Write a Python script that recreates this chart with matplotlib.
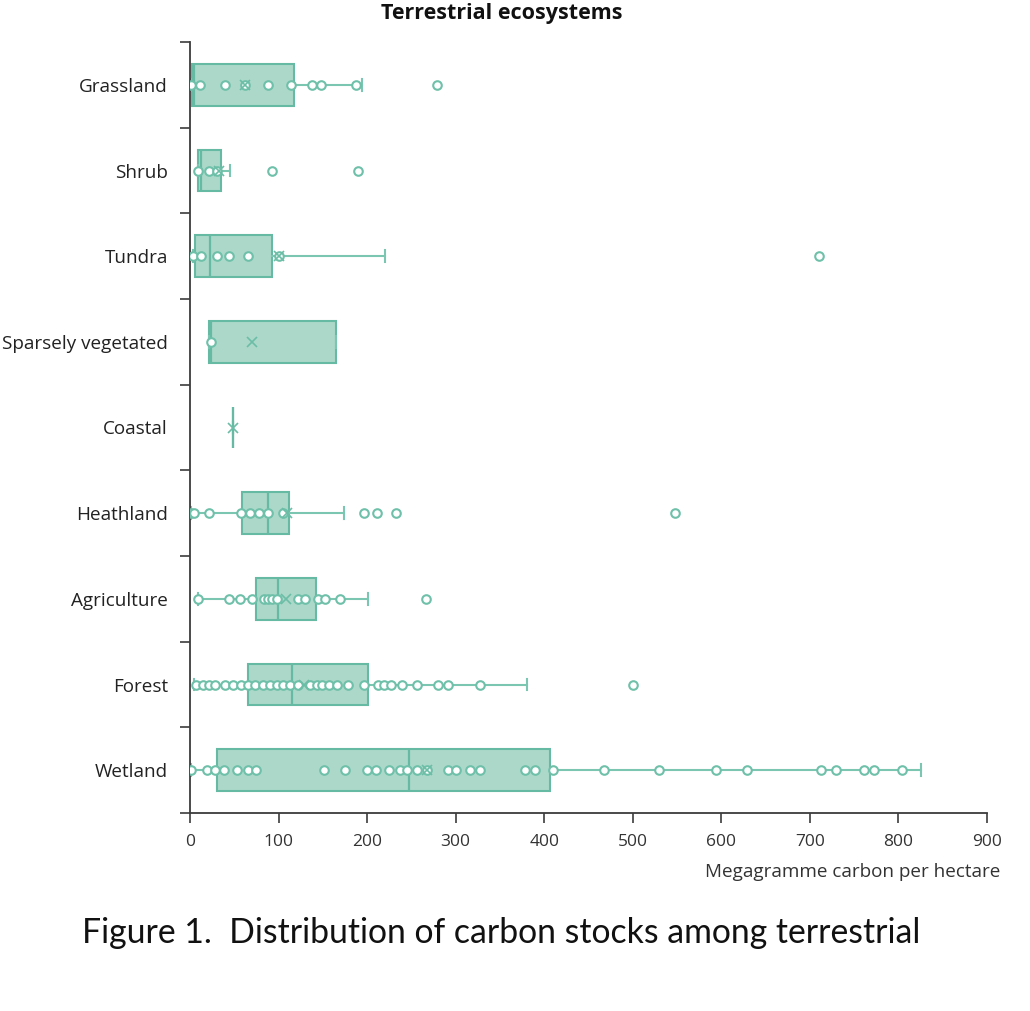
import matplotlib.pyplot as plt
import numpy as np

plt.rcParams['font.family'] = ['Open Sans', 'DejaVu Sans']

# Categories top to bottom
categories = ['Grassland', 'Shrub', 'Tundra', 'Sparsely vegetated', 'Coastal',
              'Heathland', 'Agriculture', 'Forest', 'Wetland']

# Box statistics (Mg C / ha)
q1 = [2, 9, 6, 21, 48, 59, 74, 65, 31]
median = [5, 12, 23, 24, 48, 88, 99, 115, 247]
q3 = [118, 35, 93, 165, 48, 112, 142, 201, 406]
whisker_low = [1, 9, 3, 21, 48, 1, 9, 5, 1]
whisker_high = [194, 45, 220, 165, 48, 174, 201, 380, 826]
mean = [62, 33, 101, 70, 48, 110, 108, 129, 268]

# Individual data points shown as circles
grassland_pts = [1, 11, 40, 62, 88, 114, 138, 148, 187, 279]
shrub_pts = [9, 21, 31, 93, 190]
tundra_pts = [3, 12, 30, 44, 66, 101, 710]
sparse_pts = [24]
coastal_pts = []
heath_pts = [1, 4, 21, 58, 68, 78, 88, 105, 197, 211, 233, 548]
agri_pts = [9, 44, 57, 70, 83, 88, 93, 98, 122, 130, 145, 153, 169, 266]
forest_pts = [7, 15, 21, 28, 39, 48, 58, 66, 73, 82, 90, 98, 105, 113, 122,
              136, 143, 149, 157, 166, 178, 196, 212, 219, 227, 239, 256,
              280, 291, 327, 500]
wetland_pts = [1, 19, 28, 38, 53, 65, 75, 151, 175, 200, 210, 225, 237, 245,
               256, 268, 291, 300, 316, 328, 378, 390, 410, 468, 530, 594,
               629, 713, 729, 761, 772, 804]
points = [grassland_pts, shrub_pts, tundra_pts, sparse_pts, coastal_pts,
          heath_pts, agri_pts, forest_pts, wetland_pts]

x_ticks = [0, 100, 200, 300, 400, 500, 600, 700, 800, 900]

box_face = '#acd8c9'
box_edge = '#66b9a2'
line_col = '#7ac6b0'
axis_col = '#3c3c3c'

fig = plt.figure(figsize=(10.3, 10.11), dpi=100)
ax = fig.add_axes([190 / 1030, 1 - 813 / 1011, 797 / 1030, 771 / 1011])

pos = np.arange(len(categories))
stats = []
for i, name in enumerate(categories):
    stats.append(dict(label=name, q1=q1[i], med=median[i], q3=q3[i],
                      whislo=whisker_low[i], whishi=whisker_high[i],
                      mean=mean[i], fliers=[]))

ax.bxp(stats, positions=pos, vert=False, widths=0.49, capwidths=0.14,
       patch_artist=True, showmeans=True, showfliers=False,
       boxprops=dict(facecolor=box_face, edgecolor=box_edge, linewidth=1.5),
       medianprops=dict(color=box_edge, linewidth=1.6),
       whiskerprops=dict(color=line_col, linewidth=1.5),
       capprops=dict(color=line_col, linewidth=1.5),
       meanprops=dict(marker='x', markeredgecolor='#6cbda6', markersize=7,
                      markeredgewidth=1.2, zorder=6))

for i, pts in enumerate(points):
    if pts:
        ax.scatter(pts, [pos[i]] * len(pts), s=38, facecolor='white',
                   edgecolor='#6fc0a9', linewidth=1.5, zorder=5)

ax.set_xlim(0, 900)
ax.set_ylim(len(categories) - 0.5, -0.5)
ax.set_xticks(x_ticks)
ax.set_xticklabels([str(v) for v in x_ticks], fontsize=12.5, color='#333333')
ax.set_yticks(pos)
ax.set_yticklabels(categories, fontsize=13.6, color='#222222')
ax.set_yticks(np.arange(-0.5, len(categories)), minor=True)
ax.tick_params(axis='y', which='major', length=0, pad=16)
ax.tick_params(axis='y', which='minor', length=7, width=1.2, color=axis_col)
ax.tick_params(axis='x', length=7, width=1.2, color=axis_col, pad=8)

for side in ['top', 'right']:
    ax.spines[side].set_visible(False)
for side in ['left', 'bottom']:
    ax.spines[side].set_color(axis_col)
    ax.spines[side].set_linewidth(1.3)

fig.text(1000 / 1030, 1 - 872 / 1011, 'Megagramme carbon per hectare',
         ha='right', va='center', fontsize=13.6, color='#333333')
fig.text(502 / 1030, 1 - 14 / 1011, 'Terrestrial ecosystems', ha='center',
         va='center', fontsize=15.5, fontweight='bold', color='#111111')
fig.text(501 / 1030, 1 - 933 / 1011,
         'Figure 1.  Distribution of carbon stocks among terrestrial',
         ha='center', va='center', fontsize=24.3, family='Lato', color='#111111')

fig.savefig('out.png', dpi=100)
